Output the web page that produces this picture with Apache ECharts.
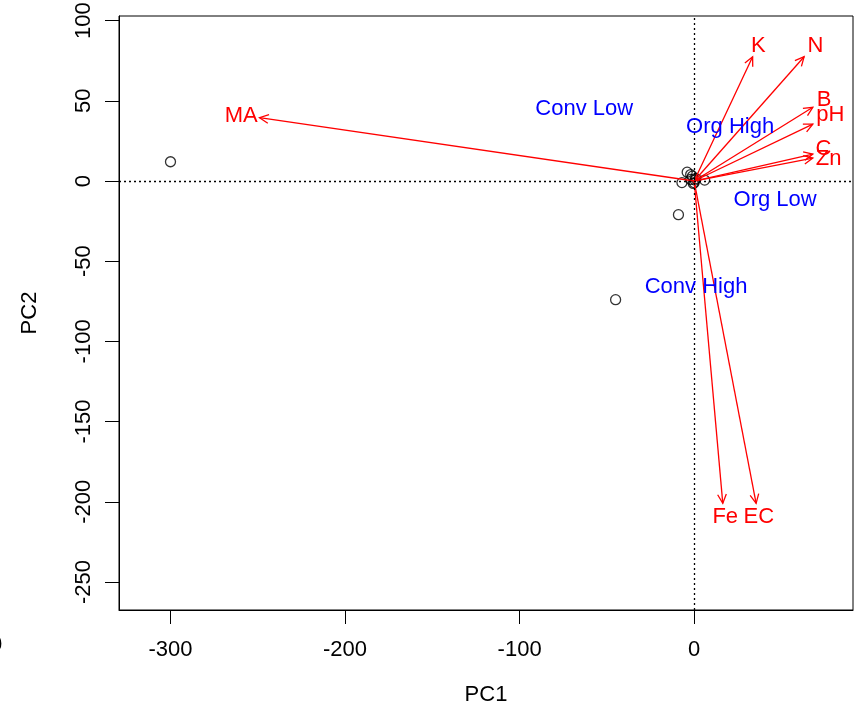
<!DOCTYPE html>
<html>
<head>
<meta charset="utf-8">
<script src="https://cdn.jsdelivr.net/npm/echarts@6/dist/echarts.min.js"></script>
<style>
html,body{margin:0;padding:0;background:#fff}
#chart{width:855px;height:709px}
</style>
</head>
<body>
<div id="chart"></div>
<script>
// sample scores (PC1, PC2)
var scorePoints = [[-300,12],[-45,-74],[-9,-21],[-4,5.5],[-2,4],[-1,3],[-7,-1],[6,0.6],[0.5,0.6],[-0.5,-1.5],[1,1.5],[-2,1],[0,-1]];
// variable loadings (arrow tips) and their label spots
var loadingNames = ['MA','K','N','B','pH','C','Zn','Fe','EC'];
var loadingTips = [[-249,39.5],[33.5,77.5],[63,77.5],[68,46],[68,35.5],[68,16.8],[68,14.3],[16.4,-201],[35.5,-201]];
var loadingLabelPos = [[-259.5,40.5],[36.7,84],[69.5,84],[74.5,50.5],[78,41.5],[74,20],[77,14],[17.8,-209.5],[37,-209.5]];
// group labels
var groupNames = ['Conv Low','Org High','Org Low','Conv High'];
var groupPos = [[-63,45],[20.6,33.5],[46.4,-11.5],[1.1,-66]];
var xTicks = [-300,-200,-100,0];
var yTicks = [-250,-200,-150,-100,-50,0,50,100];

var FONT = 'Liberation Sans, Arial, sans-serif';
var chart = echarts.init(document.getElementById('chart'));

function textSeries(pos, names, color) {
  return {
    type: 'custom',
    data: pos,
    clip: false,
    silent: true,
    z: 5,
    renderItem: function (params, api) {
      var p = api.coord([api.value(0), api.value(1)]);
      return {
        type: 'text',
        x: p[0], y: p[1],
        style: {
          text: names[params.dataIndex],
          fill: color,
          font: '22px ' + FONT,
          align: 'center',
          verticalAlign: 'middle'
        }
      };
    }
  };
}

var option = {
  animation: false,
  backgroundColor: '#fff',
  grid: {left: 119, right: 2, top: 16, bottom: 99, show: true, borderColor: '#000', borderWidth: 1,
    containLabel: false, outerBoundsMode: 'none'},
  xAxis: {
    type: 'value', min: -329.5, max: 91,
    splitLine: {show: false},
    axisLine: {onZero: false, lineStyle: {color: '#000'}},
    axisTick: {customValues: xTicks, length: 14, lineStyle: {color: '#000'}},
    axisLabel: {customValues: xTicks, margin: 29, fontSize: 22, color: '#000', fontFamily: FONT},
    name: 'PC1', nameLocation: 'middle', nameGap: 74,
    nameTextStyle: {fontSize: 22, color: '#000', fontFamily: FONT}
  },
  yAxis: {
    type: 'value', min: -267.5, max: 102.9,
    splitLine: {show: false},
    axisLine: {onZero: false, lineStyle: {color: '#000'}},
    axisTick: {customValues: yTicks, length: 14, lineStyle: {color: '#000'}},
    axisLabel: {customValues: yTicks, rotate: 90, margin: 24, fontSize: 22, color: '#000', fontFamily: FONT},
    name: 'PC2', nameLocation: 'middle', nameGap: 78,
    nameTextStyle: {fontSize: 22, color: '#000', fontFamily: FONT}
  },
  graphic: [{type: 'text', left: -10, top: 634, style: {text: '0', font: '22px ' + FONT, fill: '#000'}}],
  series: [
    {
      type: 'scatter',
      data: scorePoints,
      symbol: 'circle',
      symbolSize: 10,
      itemStyle: {color: 'rgba(0,0,0,0)', borderColor: '#000', borderWidth: 1.3},
      markLine: {
        silent: true,
        symbol: 'none',
        label: {show: false},
        lineStyle: {color: '#000', type: [2, 3], width: 1.3},
        data: [{xAxis: 0}, {yAxis: 0}]
      }
    },
    {
      type: 'custom',
      data: loadingTips,
      silent: true,
      z: 4,
      renderItem: function (params, api) {
        var o = api.coord([0, 0]);
        var t = api.coord([api.value(0), api.value(1)]);
        var a = Math.atan2(t[1] - o[1], t[0] - o[0]);
        var L = 10, s = 0.45;
        var h1 = [t[0] - L * Math.cos(a - s), t[1] - L * Math.sin(a - s)];
        var h2 = [t[0] - L * Math.cos(a + s), t[1] - L * Math.sin(a + s)];
        var st = {stroke: '#ff0000', lineWidth: 1.3, fill: null};
        return {
          type: 'group',
          children: [
            {type: 'line', shape: {x1: o[0], y1: o[1], x2: t[0], y2: t[1]}, style: st},
            {type: 'polyline', shape: {points: [h1, t, h2]}, style: st}
          ]
        };
      }
    },
    textSeries(loadingLabelPos, loadingNames, '#ff0000'),
    textSeries(groupPos, groupNames, '#0000ff')
  ]
};
chart.setOption(option);
</script>
</body>
</html>
